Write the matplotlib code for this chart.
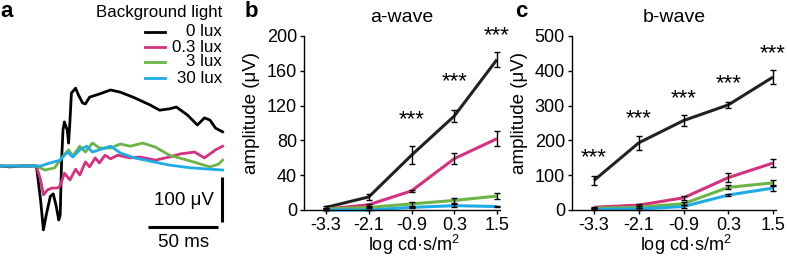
import matplotlib
matplotlib.use("Agg")
import matplotlib.pyplot as plt
from matplotlib.lines import Line2D

plt.rcParams['font.family'] = ['Liberation Sans', 'DejaVu Sans']
plt.rcParams['mathtext.fontset'] = 'custom'
plt.rcParams['mathtext.rm'] = 'Liberation Sans'
plt.rcParams['mathtext.it'] = 'Liberation Sans:italic'

W, H = 787, 259

# -------------------------
# Data
# -------------------------
# panel a: ERG traces (time in ms, amplitude in uV)
t_black = [0, 7, 14, 21, 26, 29, 31, 33, 36, 38, 40, 42, 43, 44, 45, 46, 48, 49, 50,
           51, 54, 56, 59, 61, 64, 71, 79, 86, 95, 107, 114, 121, 126, 134, 141, 146,
           150, 154, 159]
a_black = [0, -2, 0, 0, 0, -76, -142, -109, -67, -62, -87, -120, -109, 13, 80, 98, 80,
           51, 102, 162, 173, 158, 140, 138, 153, 160, 169, 164, 153, 136, 124, 127,
           131, 113, 91, 107, 102, 84, 76]

t_pink = [0, 26, 29, 31, 34, 37, 41, 43, 46, 50, 54, 57, 61, 64, 68, 71, 75, 79, 84,
          93, 100, 111, 121, 129, 139, 146, 154, 159]
a_pink = [0, 0, -31, -64, -53, -49, -49, -44, -16, -31, -7, -20, 9, -2, 18, 7, 24, 16,
          24, 18, 20, 13, 20, 27, 31, 18, 36, 44]

t_green = [0, 26, 32, 39, 44, 49, 52, 57, 61, 66, 71, 79, 86, 93, 102, 111, 121, 136,
           150, 156, 159]
a_green = [0, 0, -9, -4, 18, 36, 22, 44, 31, 51, 40, 40, 49, 44, 51, 42, 24, 11, -2, 4, 13]

t_blue = [0, 29, 36, 43, 48, 52, 57, 62, 66, 71, 79, 86, 96, 107, 121, 136, 150, 159]
a_blue = [0, 0, 7, 13, 31, 20, 36, 44, 31, 36, 44, 29, 18, 11, 2, -4, -7, -9]

# panels b/c: intensity response
intensity = [-3.3, -2.1, -0.9, 0.3, 1.5]
xtick_labels = ["-3.3", "-2.1", "-0.9", "0.3", "1.5"]

awave_mean = {
    "0 lux":   [3, 15, 63, 108, 173],
    "0.3 lux": [1, 6, 22, 59, 82],
    "3 lux":   [1, 3, 7, 11, 16],
    "30 lux":  [0, 0, 3, 5, 4],
}
awave_err = {
    "0 lux":   [2, 3, 10, 7, 9],
    "0.3 lux": [1, 1, 1, 6, 9],
    "3 lux":   [1, 1, 2, 3, 3],
    "30 lux":  [0.5, 0.5, 1, 2, 1],
}
bwave_mean = {
    "0 lux":   [85, 193, 257, 302, 382],
    "0.3 lux": [8, 14, 35, 93, 135],
    "3 lux":   [5, 8, 18, 65, 78],
    "30 lux":  [2, 3, 10, 43, 63],
}
bwave_err = {
    "0 lux":   [12, 20, 15, 9, 21],
    "0.3 lux": [2, 3, 6, 12, 12],
    "3 lux":   [2, 3, 5, 6, 9],
    "30 lux":  [1, 2, 3, 4, 8],
}

# significance stars (x, y in data units)
stars_a_x = [-0.9, 0.3, 1.5]
stars_a_y = [104, 148, 200]
stars_b_x = [-3.3, -2.1, -0.9, 0.3, 1.5]
stars_b_y = [150, 261, 319, 362, 449]

groups = ["0 lux", "0.3 lux", "3 lux", "30 lux"]
colors = {"0 lux": "#222222", "0.3 lux": "#d4317f", "3 lux": "#6cb445", "30 lux": "#1eace6"}

# -------------------------
# Figure
# -------------------------
fig = plt.figure(figsize=(W / 100, H / 100), dpi=100)


def fx(px):
    return px / W


def fy(py):
    return 1 - py / H


# -------------------------
# Panel a: traces
# -------------------------
ax_a = fig.add_axes([0, 0, 230 / W, 1])
ax_a.set_xlim(0, 230 / 1.4)
ax_a.set_ylim((166 - 259) / 0.45, 166 / 0.45)
ax_a.axis("off")

traces = [(t_black, a_black), (t_pink, a_pink), (t_green, a_green), (t_blue, a_blue)]
for g, (t, a) in zip(groups, traces):
    ax_a.plot(t, a, color="black" if g == "0 lux" else colors[g], lw=2.0,
              solid_joinstyle="round")

# scale bars
ax_a.plot([158.6, 158.6], [-124, -24], color="black", lw=2.2, solid_capstyle="butt")
ax_a.plot([105.7, 155.7], [-136, -136], color="black", lw=2.2, solid_capstyle="butt")
ax_a.text(153, -76, "100 μV", ha="right", va="center", fontsize=13.5)
ax_a.text(131, -170, "50 ms", ha="center", va="center", fontsize=13.5)

# legend
fig.text(fx(222), fy(12), "Background light", ha="right", va="center", fontsize=12.2)
for g, row in zip(groups, [32, 47, 62, 78]):
    fig.add_artist(Line2D([fx(145), fx(165)], [fy(row), fy(row)],
                          color="black" if g == "0 lux" else colors[g], lw=2.0))
    fig.text(fx(222), fy(row), g, ha="right", va="center", fontsize=12.2)


# -------------------------
# Panels b/c: intensity response
# -------------------------
def response_panel(rect, xlim, ylim, yticks, means, errs, title, sx, sy, ylab_x, xlab_x):
    ax = fig.add_axes(rect)
    for g in groups:
        ax.plot(intensity, means[g], color=colors[g], lw=2.2, zorder=2,
                solid_capstyle="butt", clip_on=False)
    for g in groups:
        ax.errorbar(intensity, means[g], yerr=errs[g], fmt="none", ecolor="black",
                    elinewidth=1.0, capsize=2, capthick=1.0, zorder=3, clip_on=False)
    for x, y in zip(sx, sy):
        ax.text(x, y, "***", ha="center", va="center", fontsize=16, clip_on=False)
    ax.set_xlim(*xlim)
    ax.set_ylim(*ylim)
    ax.set_xticks(intensity)
    ax.set_xticklabels(xtick_labels)
    ax.set_yticks(yticks)
    for s in ["top", "right"]:
        ax.spines[s].set_visible(False)
    for s in ["left", "bottom"]:
        ax.spines[s].set_linewidth(1.0)
    ax.tick_params(labelsize=13, length=3, width=1.0, pad=2)
    ax.set_xlabel("log cd·s/m$^2$", fontsize=13)
    ax.xaxis.set_label_coords(xlab_x, -(233 - 210) / 174)
    ax.set_ylabel("amplitude (μV)", fontsize=13.5)
    ax.yaxis.set_label_coords(ylab_x, 0.56)
    ax.set_title(title, fontsize=14, pad=10)
    return ax


bottom = fy(210)
height = (210 - 36) / H
response_panel([fx(304), bottom, (500 - 304) / W, height], (-3.918, 1.584), (0, 200),
               [0, 40, 80, 120, 160, 200], awave_mean, awave_err, "a-wave",
               stars_a_x, stars_a_y, -0.224, 0.56)
response_panel([fx(572), bottom, (776 - 572) / W, height], (-3.89, 1.58), (0, 500),
               [0, 100, 200, 300, 400, 500], bwave_mean, bwave_err, "b-wave",
               stars_b_x, stars_b_y, -0.216, 0.56)

# panel letters
for letter, px in [("a", 0), ("b", 245), ("c", 515)]:
    fig.text(fx(px), fy(17), letter, ha="left", va="baseline", fontsize=16,
             fontweight="bold")

fig.savefig("out.png", dpi=100)
